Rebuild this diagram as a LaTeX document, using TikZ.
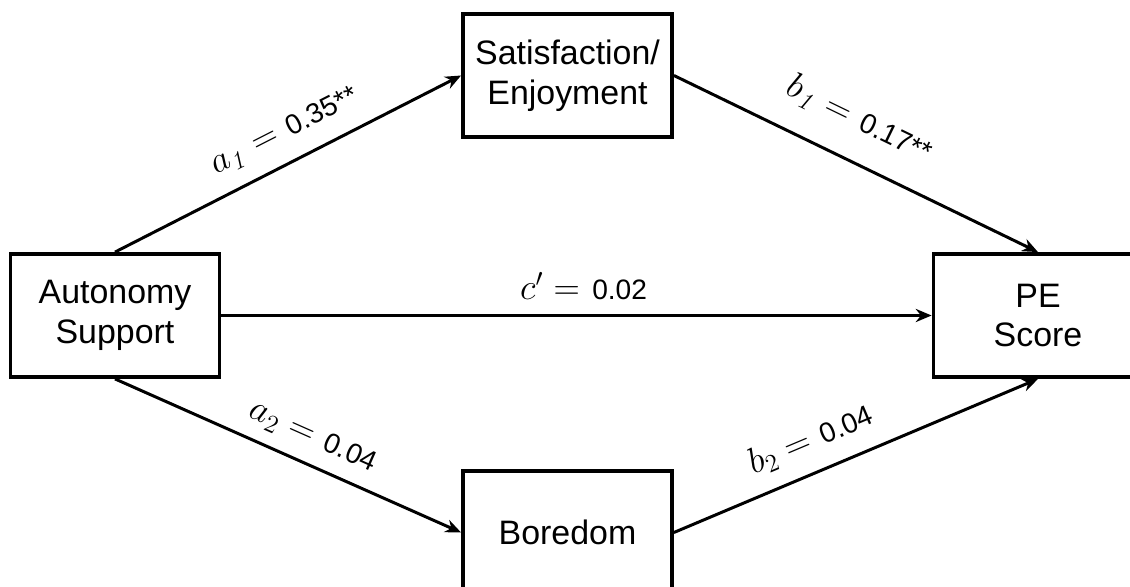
\documentclass[tikz,border=0pt]{standalone}
\usepackage{amsmath}
\usepackage[no-math]{fontspec}
\setmainfont{Liberation Sans}
\usetikzlibrary{arrows.meta}

% coeficiente: letra em modo matematico, valor em texto
\newcommand{\coef}[3]{{\fontsize{19.5}{21}\selectfont$#1_{#2} =$}\;\,#3}

\begin{document}
\begin{tikzpicture}[x=0.02cm, y=-0.02cm,
  caixa/.style={draw, line width=2.2pt, minimum width=4.18cm,
    minimum height=2.46cm, align=center,
    font={\fontsize{19.3}{22.7}\selectfont}},
  seta/.style={line width=1.7pt, -{Stealth[length=9pt, width=7.5pt]}},
  rotulo/.style={sloped, inner sep=0pt,
    font={\fontsize{16}{18}\selectfont}}]
  % area visivel
  \path[use as bounding box, clip] (0,0) rectangle (1130,587);
  % caixas
  \node[caixa] (autonomia) at (115,315.5) {Autonomy\\Support};
  \node[caixa] (satisf) at (567.5,75.5) {Satisfaction/\\Enjoyment};
  \node[caixa] (tedio) at (567.5,532.5) {Boredom};
  \node[caixa] (nota) at (1038,315.5) {PE\\Score};
  % setas
  \draw[seta] (autonomia.north) -- (satisf.west)
    node[rotulo, pos=0.53, above=9pt] {\coef{a}{\mathit{1}}{0.35**}};
  \draw[seta] (satisf.east) -- (nota.north)
    node[rotulo, pos=0.46, above=14pt] {\coef{b}{\mathit{1}}{0.17**}};
  \draw[seta] (autonomia.east) -- (nota.west)
    node[rotulo, pos=0.51, above=8pt]
    {{\fontsize{19.5}{21}\selectfont$c^{\prime} =$}\;\,0.02};
  \draw[seta] (autonomia.south) -- (tedio.west)
    node[rotulo, pos=0.54, above=7pt] {\coef{a}{2}{0.04}};
  \draw[seta] (tedio.east) -- (nota.south)
    node[rotulo, pos=0.41, above=9pt] {\coef{b}{2}{0.04}};
\end{tikzpicture}
\end{document}
